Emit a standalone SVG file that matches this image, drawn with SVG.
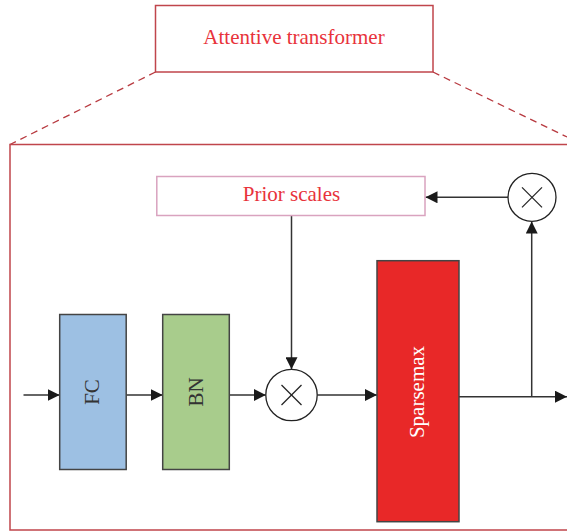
<svg xmlns="http://www.w3.org/2000/svg" width="567" height="531" viewBox="0 0 567 531">
  <defs>
    <marker id="arrow" viewBox="0 0 12 12" refX="12" refY="6" markerWidth="12" markerHeight="12" markerUnits="userSpaceOnUse" orient="auto">
      <path d="M0,0 L12,6 L0,12 Z" fill="#1a1a1a"/>
    </marker>
    <style>
      .frame { fill: none; stroke: #c0454b; stroke-width: 1.5; }
      .dash { fill: none; stroke: #b83a40; stroke-width: 1.3; stroke-dasharray: 7 5; }
      .conn { fill: none; stroke: #333333; stroke-width: 1.5; }
      .arr { marker-end: url(#arrow); }
      .block { stroke: #444444; stroke-width: 1.5; }
      .redtxt { font-family: "Liberation Serif", "Times New Roman", serif; font-size: 21px; fill: #e8333b; text-anchor: middle; }
      .blktxt { font-family: "Liberation Serif", "Times New Roman", serif; font-size: 21px; fill: #333333; text-anchor: middle; dominant-baseline: central; }
      .whttxt { font-family: "Liberation Serif", "Times New Roman", serif; font-size: 21px; fill: #ffffff; text-anchor: middle; dominant-baseline: central; }
      .op { fill: #ffffff; stroke: #222222; stroke-width: 1.3; }
      .cross { stroke: #222222; stroke-width: 1.2; }
    </style>
  </defs>

  <g id="attentive-transformer">
    <rect class="frame" x="155.5" y="5.5" width="277.5" height="66.5" fill="#ffffff"/>
    <text class="redtxt" x="294" y="44">Attentive transformer</text>
  </g>

  <g id="zoom-lines">
    <line class="dash" x1="155.5" y1="72" x2="10" y2="144.5"/>
    <line class="dash" x1="433" y1="72" x2="567" y2="137"/>
  </g>

  <g id="detail-frame">
    <rect class="frame" x="10" y="144.5" width="570" height="385.5"/>
  </g>

  <g id="connectors">
    <line class="conn arr" x1="23.5" y1="395" x2="59.7" y2="395"/>
    <line class="conn arr" x1="126.2" y1="395" x2="162.7" y2="395"/>
    <line class="conn arr" x1="229.3" y1="395" x2="265.8" y2="395"/>
    <line class="conn arr" x1="317.2" y1="395" x2="377" y2="395"/>
    <line class="conn arr" x1="459" y1="396.7" x2="567" y2="396.7"/>
    <line class="conn arr" x1="531.7" y1="396.7" x2="531.7" y2="221.5"/>
    <line class="conn arr" x1="508" y1="197.3" x2="425.5" y2="197.3"/>
    <line class="conn arr" x1="291.5" y1="216" x2="291.5" y2="369.2"/>
  </g>

  <g id="prior-scales">
    <rect x="156.8" y="176.5" width="268.2" height="39" fill="#ffffff" stroke="#d9a3bf" stroke-width="1.5"/>
    <text class="redtxt" x="291.5" y="201">Prior scales</text>
  </g>

  <g id="fc">
    <rect class="block" x="59.7" y="314.5" width="66.5" height="155" fill="#9dc0e3"/>
    <text class="blktxt" transform="translate(92,392) rotate(-90)">FC</text>
  </g>

  <g id="bn">
    <rect class="block" x="162.7" y="314.5" width="66.6" height="155" fill="#a8cc8c"/>
    <text class="blktxt" transform="translate(196,392) rotate(-90)">BN</text>
  </g>

  <g id="multiply-1">
    <circle class="op" cx="291.5" cy="395" r="25.7"/>
    <line class="cross" x1="281.5" y1="385" x2="301.5" y2="405"/>
    <line class="cross" x1="301.5" y1="385" x2="281.5" y2="405"/>
  </g>

  <g id="sparsemax">
    <rect class="block" x="377" y="260.7" width="82" height="261" fill="#e82828"/>
    <text class="whttxt" transform="translate(417,392) rotate(-90)">Sparsemax</text>
  </g>

  <g id="multiply-2">
    <circle class="op" cx="532" cy="197.3" r="24"/>
    <line class="cross" x1="522" y1="187.3" x2="542" y2="207.3"/>
    <line class="cross" x1="542" y1="187.3" x2="522" y2="207.3"/>
  </g>
</svg>
